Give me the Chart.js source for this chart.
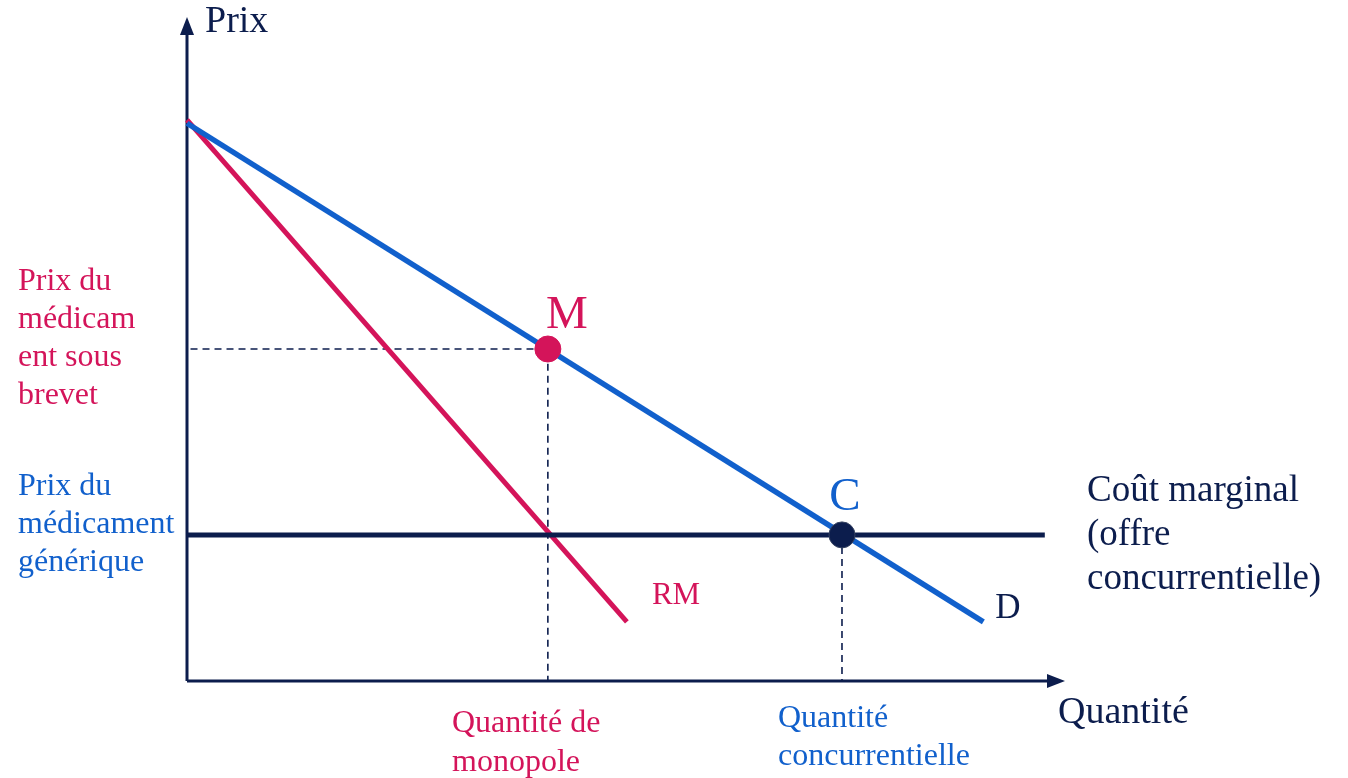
<!DOCTYPE html>
<html>
<head>
<meta charset="utf-8">
<script src="https://cdn.jsdelivr.net/npm/chart.js@4/dist/chart.umd.min.js"></script>
<style>
  html, body { margin: 0; padding: 0; background: #fff; }
  #wrap { width: 1348px; height: 778px; }
</style>
</head>
<body>
<div id="wrap"><canvas id="chart"></canvas></div>
<script>
// curves (quantity on x, price on y), arbitrary units 0..100
const demandQ = [0, 90.7];
const demandP = [84.0, 8.9];
const rmQ = [0, 50.1];
const rmP = [84.5, 8.9];
const mcQ = [0, 97.7];
const mcP = [22.0, 22.0];

// equilibria
const pointNames = ['M', 'C'];
const pointQ = [41.1, 74.6];
const pointP = [50.0, 22.0];

const NAVY = '#0c1d4d';
const PINK = '#d4145a';
const BLUE = '#1160cc';
const FONT = '"Liberation Serif", "Times New Roman", serif';

const toPts = (xs, ys) => xs.map((x, i) => ({ x: x, y: ys[i] }));

// axes with arrowheads + text labels
const diagramPlugin = {
    id: 'diagram',
    beforeDatasetsDraw(chart) {
        const { ctx, chartArea: a } = chart;
        ctx.save();
        ctx.strokeStyle = NAVY;
        ctx.fillStyle = NAVY;
        ctx.lineWidth = 3;
        ctx.beginPath();
        ctx.moveTo(a.left, a.bottom);
        ctx.lineTo(a.left, a.top + 14);
        ctx.moveTo(a.left, a.bottom);
        ctx.lineTo(a.right - 14, a.bottom);
        ctx.stroke();
        // arrow heads
        ctx.beginPath();
        ctx.moveTo(a.left, a.top);
        ctx.lineTo(a.left - 7, a.top + 18);
        ctx.lineTo(a.left + 7, a.top + 18);
        ctx.closePath();
        ctx.fill();
        ctx.beginPath();
        ctx.moveTo(a.right, a.bottom);
        ctx.lineTo(a.right - 18, a.bottom - 7);
        ctx.lineTo(a.right - 18, a.bottom + 7);
        ctx.closePath();
        ctx.fill();
        ctx.restore();
    },
    afterDraw(chart) {
        const { ctx } = chart;
        const xs = chart.scales.x, ys = chart.scales.y;
        const text = (str, x, y, size, color, align) => {
            ctx.font = size + 'px ' + FONT;
            ctx.fillStyle = color;
            ctx.textAlign = align || 'left';
            ctx.textBaseline = 'middle';
            ctx.fillText(str, x, y);
        };
        ctx.save();
        text('Prix', 205, 22, 38, NAVY);
        text('Quantité', 1058, 713, 38, NAVY);

        ['Prix du', 'médicam', 'ent sous', 'brevet'].forEach((s, i) => text(s, 18, 282 + i * 38, 32, PINK));
        ['Prix du', 'médicament', 'générique'].forEach((s, i) => text(s, 18, 487 + i * 38, 32, BLUE));

        ['Coût marginal', '(offre', 'concurrentielle)'].forEach((s, i) => text(s, 1087, 491 + i * 44, 37, NAVY));

        ['Quantité de', 'monopole'].forEach((s, i) => text(s, 452, 724 + i * 39, 32, PINK));
        ['Quantité', 'concurrentielle'].forEach((s, i) => text(s, 778, 719 + i * 38, 32, BLUE));

        // point letters
        text(pointNames[0], xs.getPixelForValue(pointQ[0]) + 19, ys.getPixelForValue(pointP[0]) - 33, 47, PINK, 'center');
        text(pointNames[1], xs.getPixelForValue(pointQ[1]) + 3, ys.getPixelForValue(pointP[1]) - 37, 47, BLUE, 'center');

        // curve names
        text('D', xs.getPixelForValue(demandQ[1]) + 12, ys.getPixelForValue(demandP[1]) - 13, 35, NAVY);
        text('RM', xs.getPixelForValue(rmQ[1]) + 25, ys.getPixelForValue(rmP[1]) - 26, 31, PINK);
        ctx.restore();
    }
};

new Chart(document.getElementById('chart'), {
    type: 'scatter',
    data: {
        datasets: [
            {
                label: 'Points',
                data: toPts(pointQ, pointP),
                pointRadius: 13,
                pointBackgroundColor: [PINK, NAVY],
                pointBorderColor: [PINK, '#33405f'],
                pointBorderWidth: 1,
                showLine: false
            },
            {
                label: 'Coût marginal',
                data: toPts(mcQ, mcP),
                showLine: true,
                borderColor: NAVY,
                borderWidth: 5,
                pointRadius: 0
            },
            {
                label: 'D',
                data: toPts(demandQ, demandP),
                showLine: true,
                borderColor: BLUE,
                borderWidth: 5.5,
                pointRadius: 0
            },
            {
                label: 'RM',
                data: toPts(rmQ, rmP),
                showLine: true,
                borderColor: PINK,
                borderWidth: 5,
                pointRadius: 0
            },
            {
                label: 'guide M',
                data: [
                    { x: 0.4, y: pointP[0] },
                    { x: pointQ[0], y: pointP[0] },
                    { x: pointQ[0], y: 0 }
                ],
                showLine: true,
                borderColor: NAVY,
                borderWidth: 1.6,
                borderDash: [7, 5],
                pointRadius: 0
            },
            {
                label: 'guide C',
                data: [
                    { x: pointQ[1], y: pointP[1] },
                    { x: pointQ[1], y: 0 }
                ],
                showLine: true,
                borderColor: NAVY,
                borderWidth: 1.6,
                borderDash: [7, 5],
                pointRadius: 0
            }
        ]
    },
    options: {
        responsive: true,
        maintainAspectRatio: false,
        animation: false,
        clip: false,
        layout: { padding: { left: 187, right: 283, top: 17, bottom: 97 } },
        scales: {
            x: { type: 'linear', min: 0, max: 100, display: false },
            y: { type: 'linear', min: 0, max: 100, display: false }
        },
        plugins: {
            legend: { display: false },
            tooltip: { enabled: false }
        }
    },
    plugins: [diagramPlugin]
});
</script>
</body>
</html>
